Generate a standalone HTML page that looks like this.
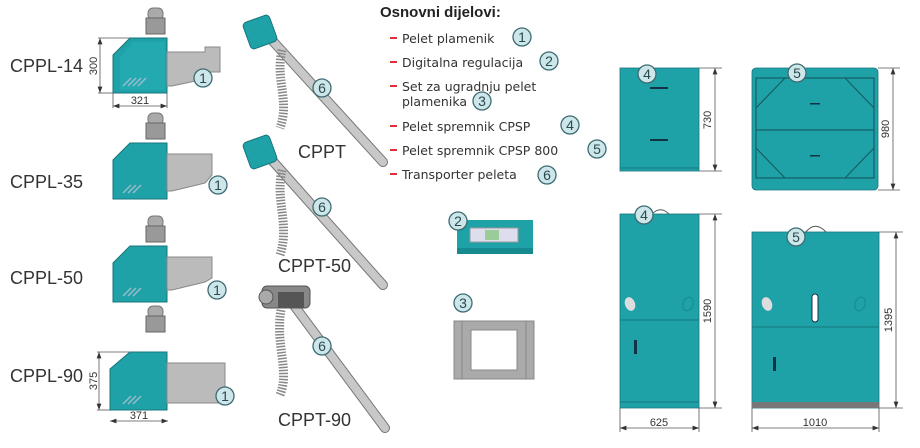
<!DOCTYPE html>
<html><head><meta charset="utf-8"><style>
html,body{margin:0;padding:0;background:#fff}
svg{display:block}
text{font-family:"Liberation Sans",sans-serif}
.n{font-family:"Liberation Sans",sans-serif;font-size:13px;fill:#333}
.lst{font-family:"DejaVu Sans","Liberation Sans",sans-serif;font-size:12.5px;fill:#333}
.c{fill:#cde6ea;stroke:#3d6b72;stroke-width:1.3}
.cn{font-size:14px;fill:#2a4a50;text-anchor:middle}
.d{stroke:#555;stroke-width:0.8;fill:none}
.dt{font-size:11px;fill:#333}
</style></head><body>
<svg width="920" height="448" viewBox="0 0 920 448" xmlns="http://www.w3.org/2000/svg">
<defs>
<marker id="a" markerWidth="8" markerHeight="6" refX="8" refY="3" orient="auto-start-reverse"><path d="M0,0 L8,3 L0,6z" fill="#333"/></marker>
</defs>

<!-- burners -->
<g id="b1">
 <rect x="148" y="8" width="15" height="12" rx="5" fill="#aaa" stroke="#777"/>
 <rect x="146" y="18" width="19" height="16" fill="#999" stroke="#666"/>
 <polygon points="130,38 167,38 167,93 113,93 113,55" fill="#1fa1a8" stroke="#17777c"/>
 <polygon points="133,42 165,42 165,90 120,90 120,58" fill="#23aab1"/>
 <path d="M123,86 l8,-8 M128,86 l8,-8 M133,86 l8,-8 M138,86 l8,-8" stroke="#9bc" stroke-width="1.5"/>
 <path d="M167,52 H205 V47 H220 V72 H205 L200,80 L172,86 H167z" fill="#bbb" stroke="#888"/>
</g>
<line x1="100" y1="38" x2="100" y2="93" class="d" marker-start="url(#a)" marker-end="url(#a)"/>
<line x1="98" y1="38" x2="130" y2="38" class="d"/><line x1="98" y1="93" x2="113" y2="93" class="d"/>
<text class="dt" transform="translate(97,66) rotate(-90)" text-anchor="middle">300</text>
<line x1="113" y1="106" x2="167" y2="106" class="d" marker-start="url(#a)" marker-end="url(#a)"/>
<line x1="113" y1="93" x2="113" y2="108" class="d"/><line x1="167" y1="93" x2="167" y2="108" class="d"/>
<text class="dt" x="140" y="104" text-anchor="middle">321</text>
<circle class="c" cx="203" cy="78" r="9"/><text class="cn" x="203" y="83">1</text>
<text x="10" y="72" font-size="18" fill="#333">CPPL-14</text>

<g transform="translate(0,105)">
 <rect x="148" y="8" width="15" height="12" rx="5" fill="#aaa" stroke="#777"/>
 <rect x="146" y="18" width="19" height="16" fill="#999" stroke="#666"/>
 <polygon points="130,38 167,38 167,94 113,94 113,55" fill="#1fa1a8" stroke="#17777c"/>
 <path d="M123,88 l8,-8 M128,88 l8,-8 M133,88 l8,-8" stroke="#9bc" stroke-width="1.5"/>
 <path d="M167,49 H212 V70 L205,78 L172,86 H167z" fill="#bbb" stroke="#888"/>
</g>
<circle class="c" cx="218" cy="185" r="9"/><text class="cn" x="218" y="190">1</text>
<text x="10" y="188" font-size="18" fill="#333">CPPL-35</text>

<g transform="translate(0,208)">
 <rect x="148" y="8" width="15" height="12" rx="5" fill="#aaa" stroke="#777"/>
 <rect x="146" y="18" width="19" height="16" fill="#999" stroke="#666"/>
 <polygon points="130,38 167,38 167,94 113,94 113,55" fill="#1fa1a8" stroke="#17777c"/>
 <path d="M123,88 l8,-8 M128,88 l8,-8 M133,88 l8,-8" stroke="#9bc" stroke-width="1.5"/>
 <path d="M167,49 H212 V70 L205,74 L172,82 H167z" fill="#bbb" stroke="#888"/>
</g>
<circle class="c" cx="217" cy="290" r="9"/><text class="cn" x="217" y="295">1</text>
<text x="10" y="284" font-size="18" fill="#333">CPPL-50</text>

<g transform="translate(0,314)">
 <rect x="148" y="-8" width="15" height="12" rx="5" fill="#aaa" stroke="#777"/>
 <rect x="146" y="2" width="19" height="16" fill="#999" stroke="#666"/>
 <polygon points="130,38 167,38 167,96 110,96 110,55" fill="#1fa1a8" stroke="#17777c"/>
 <path d="M123,90 l8,-8 M128,90 l8,-8 M133,90 l8,-8" stroke="#9bc" stroke-width="1.5"/>
 <rect x="167" y="49" width="58" height="40" fill="#bbb" stroke="#888"/>
</g>
<line x1="99" y1="352" x2="99" y2="410" class="d" marker-start="url(#a)" marker-end="url(#a)"/>
<line x1="97" y1="352" x2="130" y2="352" class="d"/><line x1="97" y1="410" x2="110" y2="410" class="d"/>
<text class="dt" transform="translate(97,381) rotate(-90)" text-anchor="middle">375</text>
<line x1="110" y1="421" x2="168" y2="421" class="d" marker-start="url(#a)" marker-end="url(#a)"/>
<text class="dt" x="139" y="419" text-anchor="middle">371</text>
<circle class="c" cx="225" cy="396" r="9"/><text class="cn" x="225" y="401">1</text>
<text x="10" y="382" font-size="18" fill="#333">CPPL-90</text>

<!-- transporters -->
<g fill="none">
 <line x1="270" y1="38" x2="383" y2="162" stroke="#777" stroke-width="10" stroke-linecap="round"/>
 <line x1="270" y1="38" x2="383" y2="162" stroke="#c8c8c8" stroke-width="8" stroke-linecap="round"/>
 <path d="M282,50 C275,80 290,100 280,128" stroke="#888" stroke-width="9" stroke-dasharray="1.5,1.5"/>
 <line x1="270" y1="158" x2="383" y2="285" stroke="#777" stroke-width="10" stroke-linecap="round"/>
 <line x1="270" y1="158" x2="383" y2="285" stroke="#c8c8c8" stroke-width="8" stroke-linecap="round"/>
 <path d="M282,170 C275,200 290,225 280,255" stroke="#888" stroke-width="9" stroke-dasharray="1.5,1.5"/>
 <line x1="290" y1="300" x2="385" y2="428" stroke="#777" stroke-width="10" stroke-linecap="round"/>
 <line x1="290" y1="300" x2="385" y2="428" stroke="#c8c8c8" stroke-width="8" stroke-linecap="round"/>
 <path d="M281,310 C275,345 290,370 280,395" stroke="#888" stroke-width="9" stroke-dasharray="1.5,1.5"/>
</g>
<g transform="rotate(-20 260 32)"><rect x="246" y="18" width="28" height="28" rx="4" fill="#1fa1a8" stroke="#17777c"/></g>
<g transform="rotate(-20 260 152)"><rect x="246" y="138" width="28" height="28" rx="4" fill="#1fa1a8" stroke="#17777c"/></g>
<rect x="262" y="286" width="48" height="22" rx="5" fill="#888" stroke="#555"/>
<rect x="278" y="292" width="26" height="16" fill="#555"/>
<circle cx="266" cy="297" r="7" fill="#aaa" stroke="#555"/>
<circle class="c" cx="322" cy="88" r="9"/><text class="cn" x="322" y="93">6</text>
<circle class="c" cx="322" cy="207" r="9"/><text class="cn" x="322" y="212">6</text>
<circle class="c" cx="322" cy="346" r="9"/><text class="cn" x="322" y="351">6</text>
<text x="298" y="158" font-size="18" fill="#333">CPPT</text>
<text x="278" y="272" font-size="18" fill="#333">CPPT-50</text>
<text x="278" y="426" font-size="18" fill="#333">CPPT-90</text>

<!-- list -->
<text x="380" y="17" font-family="DejaVu Sans,Liberation Sans,sans-serif" font-weight="bold" font-size="15" fill="#222">Osnovni dijelovi:</text>
<g fill="#e0303a">
<rect x="390" y="37" width="7" height="2"/><rect x="390" y="61" width="7" height="2"/><rect x="390" y="85" width="7" height="2"/>
<rect x="390" y="125" width="7" height="2"/><rect x="390" y="149" width="7" height="2"/><rect x="390" y="173" width="7" height="2"/>
</g>
<text class="lst" x="402" y="43">Pelet plamenik</text>
<text class="lst" x="402" y="67">Digitalna regulacija</text>
<text class="lst" x="402" y="91">Set za ugradnju pelet</text>
<text class="lst" x="402" y="106">plamenika</text>
<text class="lst" x="402" y="131">Pelet spremnik CPSP</text>
<text class="lst" x="402" y="155">Pelet spremnik CPSP 800</text>
<text class="lst" x="402" y="179">Transporter peleta</text>
<circle class="c" cx="522" cy="37" r="9"/><text class="cn" x="522" y="42">1</text>
<circle class="c" cx="549" cy="61" r="9"/><text class="cn" x="549" y="66">2</text>
<circle class="c" cx="482" cy="101" r="9"/><text class="cn" x="482" y="106">3</text>
<circle class="c" cx="570" cy="125" r="9"/><text class="cn" x="570" y="130">4</text>
<circle class="c" cx="597" cy="149" r="9"/><text class="cn" x="597" y="154">5</text>
<circle class="c" cx="547" cy="175" r="9"/><text class="cn" x="547" y="180">6</text>

<!-- item 2 -->
<rect x="457" y="220" width="76" height="34" fill="#1fa1a8"/>
<rect x="457" y="248" width="76" height="6" fill="#178a90"/>
<rect x="470" y="228" width="48" height="14" fill="#dde" stroke="#999"/>
<rect x="485" y="230" width="14" height="10" fill="#9c9"/>
<circle class="c" cx="458" cy="221" r="9"/><text class="cn" x="458" y="226">2</text>
<!-- item 3 -->
<circle class="c" cx="463" cy="303" r="9"/><text class="cn" x="463" y="308">3</text>
<rect x="454" y="321" width="80" height="58" fill="#aaa" stroke="#888"/>
<rect x="471" y="330" width="46" height="40" fill="#fff" stroke="#888"/>
<line x1="462" y1="321" x2="462" y2="379" stroke="#888"/><line x1="526" y1="321" x2="526" y2="379" stroke="#888"/>

<!-- cabinets top -->
<rect x="620" y="68" width="79" height="103" fill="#1fa1a8" stroke="#17777c" stroke-width="0.8"/>
<line x1="620" y1="168" x2="699" y2="168" stroke="#17777c"/>
<rect x="650" y="87" width="18" height="2" fill="#134"/><rect x="650" y="139" width="18" height="2" fill="#134"/>
<circle class="c" cx="647" cy="74" r="9"/><text class="cn" x="647" y="79">4</text>
<line x1="715" y1="68" x2="715" y2="171" class="d" marker-start="url(#a)" marker-end="url(#a)"/>
<line x1="699" y1="68" x2="722" y2="68" class="d"/><line x1="699" y1="171" x2="722" y2="171" class="d"/>
<text class="dt" transform="translate(711,120) rotate(-90)" text-anchor="middle">730</text>

<rect x="752" y="68" width="126" height="122" rx="4" fill="#1fa1a8" stroke="#17777c" stroke-width="0.8"/>
<g stroke="#145f63" fill="none" stroke-width="1.2">
<rect x="756" y="78" width="118" height="100"/>
<line x1="756" y1="130" x2="874" y2="130"/>
<path d="M756,108 L785,78 M845,78 L874,108 M756,148 L785,178 M845,178 L874,148"/>
</g>
<rect x="810" y="103" width="10" height="1.5" fill="#134"/><rect x="810" y="155" width="10" height="1.5" fill="#134"/>
<circle class="c" cx="797" cy="73" r="9"/><text class="cn" x="797" y="78">5</text>
<line x1="893" y1="68" x2="893" y2="190" class="d" marker-start="url(#a)" marker-end="url(#a)"/>
<line x1="878" y1="68" x2="900" y2="68" class="d"/><line x1="878" y1="190" x2="900" y2="190" class="d"/>
<text class="dt" transform="translate(889,129) rotate(-90)" text-anchor="middle">980</text>

<!-- cabinets tall -->
<rect x="620" y="214" width="79" height="194" fill="#1fa1a8" stroke="#17777c" stroke-width="0.8"/>
<line x1="620" y1="320" x2="699" y2="320" stroke="#17777c"/>
<line x1="620" y1="402" x2="699" y2="402" stroke="#17777c"/>
<ellipse cx="630" cy="304" rx="5" ry="7" fill="#ddd" transform="rotate(-20 630 304)"/>
<ellipse cx="688" cy="304" rx="5" ry="7" fill="none" stroke="#178a90" transform="rotate(20 688 304)"/>
<rect x="634" y="340" width="3" height="14" fill="#134"/>
<circle class="c" cx="644" cy="215" r="9"/><text class="cn" x="644" y="220">4</text>
<path d="M653,213 Q661,206 669,214" stroke="#555" fill="none"/>
<line x1="715" y1="214" x2="715" y2="408" class="d" marker-start="url(#a)" marker-end="url(#a)"/>
<line x1="699" y1="214" x2="722" y2="214" class="d"/><line x1="699" y1="408" x2="722" y2="408" class="d"/>
<text class="dt" transform="translate(711,311) rotate(-90)" text-anchor="middle">1590</text>
<line x1="620" y1="428" x2="699" y2="428" class="d" marker-start="url(#a)" marker-end="url(#a)"/>
<line x1="620" y1="408" x2="620" y2="432" class="d"/><line x1="699" y1="408" x2="699" y2="432" class="d"/>
<text class="dt" x="659" y="426" text-anchor="middle">625</text>

<rect x="752" y="232" width="127" height="176" fill="#1fa1a8" stroke="#17777c" stroke-width="0.8"/>
<line x1="752" y1="327" x2="879" y2="327" stroke="#17777c"/>
<rect x="752" y="402" width="127" height="6" fill="#777"/>
<ellipse cx="767" cy="304" rx="5" ry="7" fill="#ddd" transform="rotate(-20 767 304)"/>
<ellipse cx="860" cy="304" rx="5" ry="7" fill="none" stroke="#178a90" transform="rotate(20 860 304)"/>
<rect x="812" y="294" width="6" height="28" rx="3" fill="#fff" stroke="#134"/>
<rect x="773" y="357" width="3" height="14" fill="#134"/>
<circle class="c" cx="796" cy="237" r="9"/><text class="cn" x="796" y="242">5</text>
<path d="M805,233 Q815,220 826,232" stroke="#555" fill="none"/>
<line x1="896" y1="232" x2="896" y2="408" class="d" marker-start="url(#a)" marker-end="url(#a)"/>
<line x1="879" y1="232" x2="903" y2="232" class="d"/><line x1="879" y1="408" x2="903" y2="408" class="d"/>
<text class="dt" transform="translate(892,320) rotate(-90)" text-anchor="middle">1395</text>
<line x1="752" y1="428" x2="879" y2="428" class="d" marker-start="url(#a)" marker-end="url(#a)"/>
<line x1="752" y1="408" x2="752" y2="432" class="d"/><line x1="879" y1="408" x2="879" y2="432" class="d"/>
<text class="dt" x="815" y="426" text-anchor="middle">1010</text>
</svg>
</body></html>
